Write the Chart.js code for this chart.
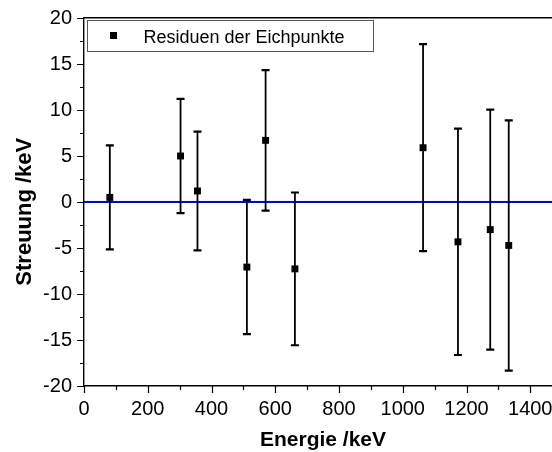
<!DOCTYPE html>
<html><head><meta charset="utf-8">
<script src="https://cdn.jsdelivr.net/npm/chart.js@4/dist/chart.umd.min.js"></script>
<style>html,body{margin:0;padding:0;overflow:hidden;background:#fff;width:552px;height:452px}canvas{display:block}</style>
</head><body>
<canvas id="c" width="600" height="452" style="width:600px;height:452px"></canvas>
<script>
// ---- data ----
const energies  = [81.0, 302.9, 356.0, 511.0, 569.7, 661.7, 1063.7, 1173.2, 1274.5, 1332.5]; // keV
const residuals = [0.5, 5.0, 1.2, -7.07, 6.7, -7.27, 5.9, -4.33, -3.0, -4.72];              // keV
const errors    = [5.65, 6.2, 6.45, 7.3, 7.63, 8.3, 11.25, 12.3, 13.05, 13.6];              // keV
const referenceLevel = 0;
const xRange = [0, 1600];
const yRange = [-20, 20];
const xMajorStep = 200, xMinorStep = 100;
const yMajorStep = 5, yMinorStep = 2.5;
const seriesLabel = 'Residuen der Eichpunkte';
const xTitle = 'Energie /keV';
const yTitle = 'Streuung /keV';

const FONT = "'Liberation Sans', Arial, sans-serif";
Chart.defaults.font.family = FONT;
Chart.defaults.color = '#000';

const isMajor = (v, step) => Math.abs(v / step - Math.round(v / step)) < 1e-9;

const drawPlugin = {
  id: 'custom',
  beforeDatasetsDraw(chart) {
    const {ctx, chartArea: a, scales: {x, y}} = chart;
    ctx.save();
    // reference line
    const y0 = y.getPixelForValue(referenceLevel);
    ctx.strokeStyle = '#0000ff';
    ctx.lineWidth = 2;
    ctx.beginPath(); ctx.moveTo(a.left, y0); ctx.lineTo(a.right, y0); ctx.stroke();
    // error bars
    ctx.strokeStyle = '#000';
    energies.forEach((e, i) => {
      const px = x.getPixelForValue(e);
      const pt = y.getPixelForValue(residuals[i] + errors[i]);
      const pb = y.getPixelForValue(residuals[i] - errors[i]);
      ctx.lineWidth = 1.8;
      ctx.beginPath(); ctx.moveTo(px, pt); ctx.lineTo(px, pb); ctx.stroke();
      ctx.lineWidth = 2.2;
      ctx.beginPath();
      ctx.moveTo(px - 4, pt); ctx.lineTo(px + 4, pt);
      ctx.moveTo(px - 4, pb); ctx.lineTo(px + 4, pb);
      ctx.stroke();
    });
    ctx.restore();
  },
  afterDraw(chart) {
    const {ctx, chartArea: a, scales: {x, y}} = chart;
    ctx.save();
    ctx.strokeStyle = '#000';
    ctx.lineWidth = 1.2;
    // tick marks
    ctx.beginPath();
    x.ticks.forEach(t => {
      const px = Math.round(x.getPixelForValue(t.value)) + 0.5;
      const len = isMajor(t.value, xMajorStep) ? 7 : 4;
      ctx.moveTo(px, a.bottom); ctx.lineTo(px, a.bottom + len);
    });
    y.ticks.forEach(t => {
      const py = Math.round(y.getPixelForValue(t.value)) + 0.5;
      const len = isMajor(t.value, yMajorStep) ? 7 : 4;
      ctx.moveTo(a.left, py); ctx.lineTo(a.left - len, py);
    });
    ctx.stroke();
    // legend
    ctx.strokeStyle = '#555';
    ctx.lineWidth = 1;
    ctx.strokeRect(87.5, 20.5, 286, 31);
    ctx.fillStyle = '#000';
    ctx.fillRect(110, 32, 7, 7);
    ctx.font = '18px ' + FONT;
    ctx.textAlign = 'left';
    ctx.textBaseline = 'alphabetic';
    ctx.fillText(seriesLabel, 143.5, 42.7);
    // axis titles
    ctx.font = 'bold 21px ' + FONT;
    ctx.textAlign = 'center';
    ctx.fillText(xTitle, 323, 446);
    ctx.save();
    ctx.translate(30.5, 211.7);
    ctx.rotate(-Math.PI / 2);
    ctx.font = 'bold 22px ' + FONT;
    ctx.fillText(yTitle, 0, 0);
    ctx.restore();
    ctx.restore();
  }
};

new Chart(document.getElementById('c'), {
  type: 'scatter',
  data: {
    datasets: [{
      label: seriesLabel,
      data: energies.map((e, i) => ({x: e, y: residuals[i]})),
      pointStyle: 'rect',
      pointRadius: 4.9,
      pointHoverRadius: 4.9,
      backgroundColor: '#000',
      borderColor: '#000',
      borderWidth: 0,
      showLine: false
    }]
  },
  options: {
    responsive: false,
    animation: false,
    events: [],
    layout: {padding: {left: 0, right: 6, top: 0, bottom: 0}},
    plugins: {legend: {display: false}, tooltip: {enabled: false}},
    scales: {
      x: {
        type: 'linear', position: 'bottom', min: xRange[0], max: xRange[1],
        grid: {drawOnChartArea: false, drawTicks: false},
        border: {display: true, color: '#000', width: 1.4},
        ticks: {
          stepSize: xMinorStep, autoSkip: false, maxRotation: 0, padding: 11,
          font: {size: 20, family: FONT}, color: '#000',
          callback: v => isMajor(v, xMajorStep) ? String(v) : ''
        },
        afterFit: s => { s.height = 66; s.paddingLeft = 0; s.paddingRight = 0; }
      },
      x2: {
        type: 'linear', position: 'top', min: xRange[0], max: xRange[1],
        grid: {drawOnChartArea: false, drawTicks: false},
        border: {display: true, color: '#000', width: 1.4},
        ticks: {display: false},
        afterFit: s => { s.height = 18; s.paddingLeft = 0; s.paddingRight = 0; }
      },
      y: {
        type: 'linear', position: 'left', min: yRange[0], max: yRange[1],
        grid: {drawOnChartArea: false, drawTicks: false},
        border: {display: true, color: '#000', width: 1.4},
        ticks: {
          stepSize: yMinorStep, autoSkip: false, padding: 12,
          font: {size: 20, family: FONT}, color: '#000',
          callback: v => isMajor(v, yMajorStep) ? String(v) : ''
        },
        afterFit: s => { s.width = 84; s.paddingTop = 0; s.paddingBottom = 0; }
      }
    }
  },
  plugins: [drawPlugin]
});
</script>
</body></html>
